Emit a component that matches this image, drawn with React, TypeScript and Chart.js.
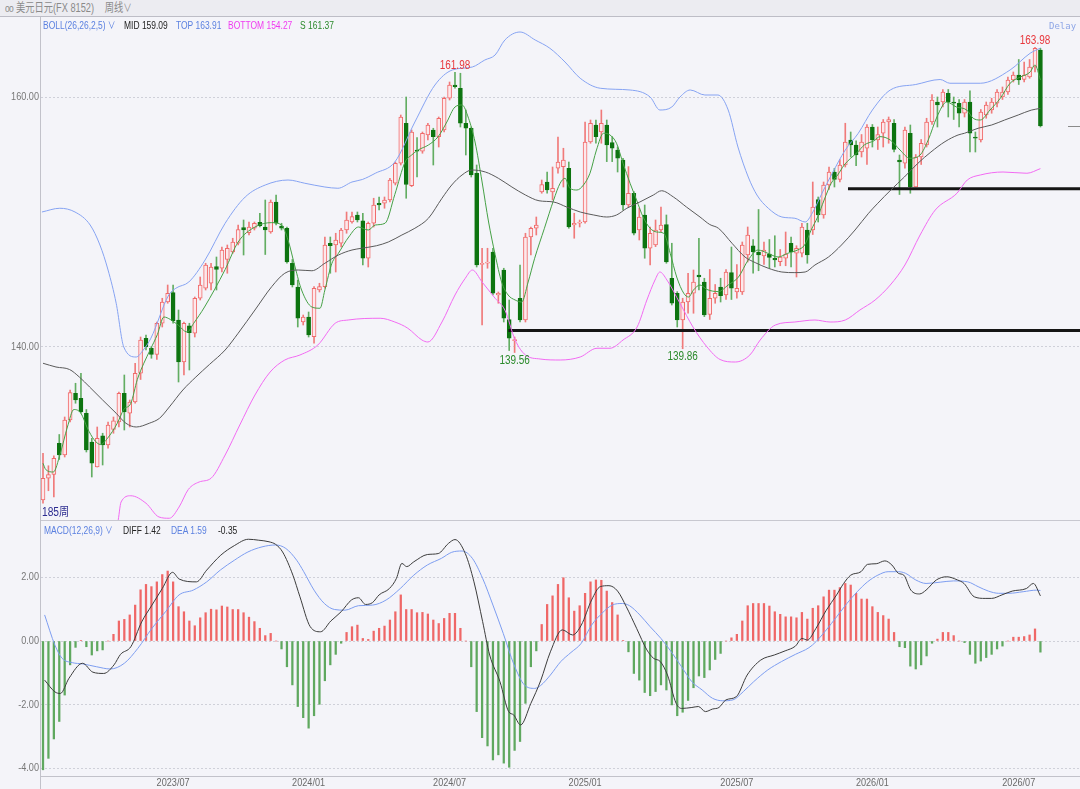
import React, { useEffect, useRef } from 'react';
import { Chart, registerables } from 'chart.js';

Chart.register(...registerables);

const FONT = "'Liberation Sans','Noto Sans CJK SC',sans-serif";
const TEXT_SX = 0.77; // horizontal squeeze for html texts
const CANVAS_SX = 0.83; // horizontal squeeze for canvas texts

// ---- weekly candles (1-based week index = position in arrays + 1) ----
const OPEN = [127.76,129.5,129.8,132.3,131.36,134.16,136.3,135.9,134.7,132.4,
130.4,132.9,132.16,133.4,134.0,136.3,134.7,135.6,137.9,140.7,
139.9,139.4,141.9,143.6,144.35,142.16,138.8,141.7,141.1,143.9,
144.7,145.1,146.43,146.3,147.0,147.6,148.3,149.55,149.15,149.5,
149.97,149.6,149.2,151.6,149.68,149.5,146.7,144.8,142.0,142.4,
140.83,144.56,144.83,148.3,148.16,148.3,149.36,150.0,150.56,150.1,
147.1,149.9,151.5,151.5,151.76,153.1,154.7,157.9,152.9,155.76,
155.66,156.96,157.36,156.83,157.36,159.9,160.96,160.7,157.9,157.5,
153.9,146.6,146.7,147.6,144.16,146.16,142.2,140.5,143.9,142.16,
148.8,149.5,152.4,153.2,152.4,154.3,154.43,154.3,149.76,149.9,
150.0,156.4,157.76,157.2,157.76,156.35,155.76,154.96,151.36,152.3,
149.36,150.56,147.9,148.16,149.36,149.8,145.5,144.3,142.16,143.6,
144.3,145.76,145.2,142.6,143.9,144.8,144.16,145.95,144.4,144.4,
147.36,148.1,147.6,147.28,147.44,147.1,146.83,147.1,148.3,147.5,
147.5,149.36,149.36,151.8,150.56,152.96,154.0,153.4,154.56,156.56,
156.16,155.6,155.9,157.6,156.56,157.1,158.0,157.9,154.96,154.7,
157.1,152.8,155.2,156.16,158.0,159.6,159.6,160.3,159.6,159.5,
158.7,159.6,156.8,156.56,158.56,158.96,159.5,160.0,160.4,161.36,
161.76,161.4,161.6,162.4,163.76];

const HIGH = [131.5,130.5,131.3,133.0,134.4,136.56,137.1,137.9,135.0,132.7,
133.6,133.1,134.0,134.4,136.4,137.76,135.76,138.7,140.8,140.96,
140.0,142.0,143.9,144.96,144.96,142.96,142.0,141.9,144.0,145.6,
146.7,146.7,147.2,148.0,148.16,148.7,149.76,150.16,150.0,150.0,
150.7,151.76,151.76,152.16,149.9,149.6,147.0,145.36,142.56,142.8,
144.83,145.1,148.8,148.8,149.1,149.5,150.8,150.8,150.8,150.7,
150.0,151.9,152.0,152.0,153.5,154.8,158.56,160.0,157.36,156.76,
157.2,157.9,157.5,158.4,160.0,161.2,161.98,161.9,158.96,157.6,
154.56,147.9,147.9,147.9,144.4,146.3,143.76,140.8,146.56,149.1,
149.6,150.4,153.36,154.0,154.4,156.8,155.9,154.8,150.7,150.16,
158.0,158.16,158.16,158.96,158.16,156.83,156.0,155.1,154.43,152.43,
151.1,151.36,149.6,150.16,151.2,150.56,148.3,144.43,143.9,145.9,
146.16,148.7,145.5,146.2,145.0,145.5,146.2,148.0,146.6,148.4,
149.6,148.6,151.0,148.4,148.6,148.9,147.8,149.2,148.8,148.1,
149.9,149.9,153.2,152.0,153.2,154.4,154.3,155.0,157.9,157.2,
156.5,157.0,157.8,157.8,157.6,158.2,158.4,158.2,155.36,157.6,
157.76,155.4,156.6,158.3,160.2,160.0,160.6,160.6,160.0,159.8,
159.8,160.5,157.2,159.0,159.6,159.9,160.6,160.8,161.6,162.0,
163.0,162.8,163.0,163.98,163.9];

const LOW = [127.5,128.5,128.0,131.0,131.2,134.0,135.5,134.7,131.6,129.6,
130.4,130.56,131.9,133.1,133.6,133.36,133.6,135.5,137.4,139.76,
139.1,139.0,141.6,143.5,141.9,137.2,137.76,138.16,140.8,143.76,
144.56,144.56,144.56,146.0,145.9,147.5,148.16,147.36,148.96,149.36,
149.6,147.4,149.1,149.76,149.36,146.7,144.8,141.6,141.76,140.8,
140.3,144.4,144.7,145.9,146.0,148.0,149.1,149.9,150.0,146.56,
146.4,149.6,150.96,151.1,151.6,152.96,154.56,151.9,152.83,153.6,
155.5,156.56,154.56,156.0,157.2,159.76,160.7,157.6,155.36,153.6,
146.4,141.76,146.3,144.16,143.5,142.0,139.72,139.56,142.0,142.0,
147.36,148.96,152.3,152.3,151.76,153.9,152.8,149.5,148.7,149.6,
149.9,156.3,156.3,156.3,154.83,154.83,154.0,150.96,151.2,148.96,
148.56,147.1,146.56,148.03,149.2,146.7,143.36,141.6,139.86,142.7,
142.7,144.56,142.43,142.2,143.5,143.6,143.8,143.8,143.9,144.2,
146.8,145.9,146.1,146.6,146.3,146.4,146.5,146.5,146.4,145.6,
147.2,146.7,149.0,150.0,150.3,152.6,152.8,153.2,154.4,155.2,
154.5,155.2,154.6,156.0,155.8,156.0,156.3,155.6,152.2,154.3,
152.3,152.8,154.6,156.0,157.8,157.6,159.2,158.4,158.2,157.6,
158.4,155.6,155.6,156.4,158.3,158.7,159.2,159.8,160.2,161.2,
161.0,161.2,161.5,162.0,157.6];

const CLOSE = [129.5,129.8,131.1,131.36,134.16,136.35,135.76,134.8,131.76,130.7,
132.7,132.16,133.76,134.1,136.3,134.8,135.6,137.9,140.56,140.0,
139.4,141.9,143.6,144.3,142.1,138.8,141.9,141.15,143.9,144.96,
146.56,146.4,146.2,147.76,147.9,148.4,149.4,149.36,149.6,149.9,
149.7,149.36,151.6,149.9,149.5,146.8,144.96,142.3,142.4,140.96,
144.7,144.83,148.16,148.1,148.56,149.36,150.16,150.43,150.16,147.1,
149.9,151.36,151.36,151.76,153.36,154.7,158.4,153.0,157.2,155.66,
157.1,157.76,156.83,158.3,159.9,160.96,160.83,157.9,157.5,153.76,
146.56,146.7,146.8,144.3,144.3,142.3,140.7,140.6,142.16,148.8,
149.5,149.76,153.0,152.56,152.7,154.8,154.96,149.6,149.9,150.0,
156.4,157.9,156.83,157.9,156.16,155.9,155.1,151.36,152.3,149.1,
150.4,147.9,149.1,149.36,149.76,146.8,143.5,142.16,143.6,144.3,
145.2,145.6,142.56,143.9,144.3,144.1,146.0,144.7,144.7,148.16,
148.96,147.6,147.36,147.76,147.17,146.96,147.2,147.44,147.6,147.9,
149.6,147.36,151.2,150.56,152.96,154.0,153.4,154.56,156.4,156.16,
155.36,156.4,157.6,156.56,157.0,158.0,158.2,155.8,154.8,157.36,
152.8,155.2,156.3,158.0,159.76,159.36,160.4,159.6,159.5,158.7,
159.6,157.1,156.7,158.8,159.36,159.6,160.4,160.4,161.36,161.76,
161.36,161.76,162.4,163.9,157.68];

// ---- Bollinger / S line readings: [week, value] ----
const BOLL_TOP = [[0.8,150.8],[4.1,151.1],[6.9,150.8],[9.7,149.76],[11.5,148.16],[13,146.16],[14.5,143.5],[15.9,140.0],[18.2,139.2],[19.5,139.76],[20.9,140.7],[24.2,144.16],[25.5,144.7],[27.9,145.2],[30.9,146.96],[34.6,149.9],[38.3,152.0],[42,152.96],[46.2,153.36],[49.3,153.1],[53,152.8],[55.4,152.7],[58,153.2],[59.9,153.4],[62.3,153.9],[65.9,154.8],[69.6,158.0],[73.3,160.96],[76.5,162.16],[80.2,162.4],[82.5,162.96],[84.4,163.36],[86.2,164.56],[89,165.2],[91.8,164.56],[94.5,163.9],[97.3,162.8],[100.1,161.5],[103.8,160.7],[109.3,160.56],[113,160.0],[114.8,158.96],[117,159.2],[118.5,160.0],[120.4,160.56],[123.1,160.16],[125.5,160.16],[127.4,158.96],[129.2,156.0],[131.1,153.6],[132.7,152.16],[134.8,151.1],[137.3,150.4],[139.7,150.3],[141.6,150.0],[142.9,150.7],[144.7,152.3],[146.6,153.9],[149,155.76],[151.4,157.1],[154,158.96],[157.3,160.56],[162,161.0],[166.5,161.4],[168.3,161.1],[173.9,161.1],[179.4,162.16],[183.1,163.5],[185,163.91]];

const BOLL_MID = [[1,138.7],[3.4,138.4],[5.9,138.2],[7.7,137.6],[9.6,136.8],[12,135.76],[14.5,134.7],[16.3,133.9],[18.2,133.6],[20.6,133.9],[22.5,134.3],[24.3,135.2],[26.8,136.56],[29.2,137.6],[31.7,138.6],[34.6,139.76],[37,141.1],[40.1,142.96],[43.2,144.83],[45.6,145.9],[48.1,146.16],[50.6,146.1],[53,146.7],[55.5,147.36],[58,147.76],[59.8,147.9],[62.5,148.1],[64.7,148.4],[67.2,148.96],[69.6,149.5],[72.1,150.3],[74.6,151.9],[76.4,152.96],[78.3,153.76],[80.1,154.16],[82.6,154.0],[85,153.5],[87.5,152.8],[90,152.16],[92.5,151.7],[95.2,151.6],[97.6,151.2],[100.1,150.8],[102.6,150.56],[105,150.4],[106.8,150.56],[108.7,151.1],[111.1,151.6],[113.6,152.16],[115.1,152.5],[117.3,152.0],[119.7,151.2],[122.2,150.4],[124,149.8],[125.6,149.5],[128.1,148.3],[130.5,147.2],[132.4,146.75],[134.8,146.3],[137.3,146.0],[139.7,145.95],[141.6,146.0],[143.4,146.56],[145.9,147.2],[148.3,148.16],[150.8,149.36],[153.3,150.7],[155,151.5],[157.4,152.56],[159.9,153.6],[162.4,154.7],[164.8,155.6],[167.4,156.43],[169.8,156.96],[171,157.1],[173.5,157.5],[176,157.76],[178.4,158.16],[180.9,158.56],[183.3,158.95],[185,159.09]];

const BOLL_BOTTOM = [[13.4,124.8],[14.8,126.0],[15.4,127.6],[17.2,128.1],[20,127.5],[22.4,126.4],[24.3,126.3],[26.1,127.2],[27.8,128.6],[29.8,129.2],[32,129.5],[34.6,131.36],[37.3,133.76],[40.1,136.16],[42.9,138.0],[45.6,138.96],[48.4,139.36],[51.7,140.16],[54.9,141.9],[57.3,142.16],[63.2,142.3],[65.9,142.0],[68.3,141.5],[70.9,140.56],[72,140.4],[74.6,142.0],[77,144.16],[78.9,145.5],[80.2,146.16],[82,145.2],[84.4,143.9],[86.2,142.96],[88.1,140.56],[90,139.36],[92.7,139.04],[96.4,138.96],[100.1,139.2],[103.2,139.9],[105.6,139.9],[108,140.56],[110.6,141.6],[112.4,143.76],[113.9,145.36],[114.8,146.0],[116.1,145.36],[118.5,143.5],[120.9,141.6],[123.5,140.0],[125.9,139.0],[128.7,138.8],[131.4,139.36],[133.3,140.56],[136.1,141.76],[139.7,142.0],[143.4,142.16],[146.2,142.0],[149,142.16],[151.7,142.96],[154.5,143.76],[157.3,144.96],[160,146.56],[162.8,148.96],[165.6,150.96],[169.6,152.3],[171.5,153.36],[173.9,153.76],[178.1,154.0],[182.5,153.9],[185,154.27]];

const S_LINE = [[1,130.7],[1.5,130.2],[2.9,130.0],[4.2,131.5],[5.5,133.6],[6.7,135.0],[8,134.7],[9.2,133.5],[10.4,132.6],[11.6,132.2],[12.9,132.7],[14.7,133.9],[15.9,135.0],[17.2,135.5],[18.4,137.4],[19.6,138.7],[20.8,139.8],[22.1,141.0],[23.3,142.4],[24.5,142.2],[25.8,141.8],[27.6,141.2],[28.8,141.9],[30.8,143.2],[34.6,146.2],[37,148.4],[40.1,149.6],[43.2,149.95],[45,149.76],[46.2,148.56],[47.5,146.4],[48.7,144.56],[50.6,143.2],[52.1,143.1],[53,144.56],[54.3,146.7],[55.5,147.5],[57.4,148.8],[59.2,149.6],[61,149.36],[62.3,149.76],[64.1,149.9],[65.9,152.2],[67.8,154.8],[69,155.36],[70.2,155.76],[72.1,156.16],[73.9,156.83],[75.5,158.0],[77,159.2],[78.3,159.36],[79.5,158.3],[80.7,156.4],[82,153.2],[83.2,150.0],[84.4,147.4],[85.6,145.2],[86.8,144.16],[88.1,143.76],[89.3,143.6],[90.5,145.2],[91.7,147.1],[93.5,149.5],[95.2,151.76],[96.4,153.1],[97.3,153.5],[98.2,152.7],[99.5,152.56],[100.7,152.96],[101.9,153.9],[103.1,155.76],[104.4,157.1],[105.6,156.96],[106.8,156.3],[108,154.7],[109.3,153.1],[110.5,151.76],[111.7,150.4],[113,149.5],[114.2,149.2],[115.5,149.1],[116.7,147.5],[117.9,145.6],[119.2,144.3],[120.1,144.0],[121,144.56],[122.2,144.96],[123.5,144.6],[125.6,144.43],[127.4,144.96],[129.3,145.6],[131.1,146.96],[132.9,147.76],[134.7,147.5],[136.6,147.2],[138.4,147.5],[140.2,147.76],[141.5,148.16],[142.7,149.36],[143.9,150.4],[145.1,151.76],[146.4,153.1],[147.6,153.76],[148.8,154.56],[150,155.1],[151.3,155.6],[152.5,156.16],[154.3,156.5],[155.4,156.83],[157.3,156.56],[159.1,155.76],[160.9,155.1],[162.8,155.36],[164.3,156.56],[165.9,158.4],[167.7,159.6],[169.5,159.2],[171.4,158.96],[172.6,158.3],[173.9,158.16],[175.7,158.96],[177.6,159.9],[179.4,161.1],[181.3,161.6],[183.1,162.0],[184,162.56],[185,161.37]];

// ---- MACD ----
const MACD_HIST = [-4.05,-3.69,-3.08,-2.53,-1.7,-0.75,-0.2,0.02,-0.18,-0.44,
-0.31,-0.28,0,0.21,0.63,0.68,0.82,1.13,1.61,1.78,
1.71,1.86,2.09,2.2,1.86,1.08,0.92,0.63,0.48,0.73,
0.89,1.0,0.98,1.1,1.07,0.99,0.99,0.89,0.75,0.61,
0.4,0.17,0.24,0,-0.25,-0.81,-1.38,-2.06,-2.41,-2.74,
-2.35,-1.99,-1.25,-0.75,-0.42,-0.07,0.27,0.45,0.5,0.08,
0.05,0.31,0.4,0.47,0.66,0.92,1.45,0.99,0.99,0.89,
0.9,0.85,0.66,0.55,0.71,0.87,0.87,0.4,0,-0.81,
-2.22,-3.04,-3.3,-3.74,-3.58,-3.84,-3.97,-3.44,-3.16,-1.96,
-0.81,-0.31,0.52,1.15,1.42,1.78,1.99,1.36,0.94,1.11,
1.5,1.86,1.92,1.91,1.57,1.21,0.82,0.02,-0.34,-1.02,
-1.23,-1.62,-1.72,-1.59,-1.38,-1.54,-2.01,-2.35,-2.24,-1.87,
-1.47,-1.1,-1.15,-0.91,-0.58,-0.39,0,0.1,0.21,0.63,
1.11,1.18,1.18,1.18,1.1,0.92,0.84,0.76,0.76,0.73,
0.9,0.69,1.03,1.11,1.39,1.6,1.6,1.68,1.81,1.76,
1.5,1.32,1.32,1.08,0.9,0.8,0.69,0.27,-0.18,-0.21,
-0.79,-0.88,-0.75,-0.47,-0.07,0.06,0.27,0.27,0.17,0,
-0.05,-0.42,-0.7,-0.63,-0.52,-0.42,-0.25,-0.16,0,0.12,
0.12,0.14,0.19,0.38,-0.35];

const MACD_DIFF = [[1.3,-1.23],[3.2,-1.6],[4.2,-1.65],[5.8,-1.17],[8.3,-0.7],[10.2,-0.98],[12.2,-1.02],[14.1,-0.75],[15.3,-0.42],[17.2,-0.18],[19.2,0.6],[21.1,1.13],[23,1.65],[24.9,2.16],[26.1,1.95],[29.3,1.86],[31.2,2.23],[33.8,2.7],[36.3,3.0],[38.9,3.2],[40.8,3.17],[42.7,3.12],[43.9,3.04],[45.2,2.8],[47.1,2.07],[48.4,1.39],[50.3,0.45],[52.2,0.29],[54.1,0.63],[56,0.92],[57.9,1.29],[59.2,1.36],[60.5,1.15],[61.8,1.21],[63,1.45],[64.9,1.65],[66.2,1.97],[67.2,2.44],[68.1,2.34],[69.4,2.49],[71.9,2.72],[73.9,2.75],[75.8,3.07],[77,3.19],[78.9,2.75],[80.5,1.86],[82.1,0.61],[83.4,-0.44],[85.3,-1.28],[86.9,-2.22],[87.8,-2.32],[89.1,-2.64],[91,-1.96],[92.8,-1.25],[94.6,-0.34],[96.8,0.35],[98.7,0.19],[100.3,0.5],[102.2,1.29],[103.8,1.71],[105.4,1.74],[107,1.57],[108.6,1.08],[110.5,0.4],[112.4,-0.28],[113.6,-0.54],[114.9,-0.65],[116.2,-1.07],[117.8,-1.96],[118.8,-2.12],[120.7,-2.09],[121.9,-2.06],[123.2,-2.22],[124.5,-2.14],[125.7,-2.09],[127,-1.85],[128.9,-1.75],[130.9,-1.07],[133.4,-0.6],[135.9,-0.44],[137.9,-0.31],[139.8,-0.16],[141,0.08],[142,0.03],[143.6,0.4],[145.5,0.97],[147.4,1.45],[148.7,1.81],[150,2.07],[151.9,2.18],[153.1,2.41],[154.7,2.43],[156.3,2.52],[157.6,2.39],[158.8,2.13],[159.8,2.07],[161.1,1.6],[162.7,1.48],[163.9,1.6],[165.8,1.92],[167.7,2.02],[169.7,1.92],[170.9,1.81],[172.8,1.39],[174.8,1.34],[176,1.34],[177.9,1.45],[179.8,1.57],[182.4,1.65],[183.7,1.81],[185,1.42]];

const MACD_DEA = [[1.3,0.82],[3.2,-0.13],[4.5,-0.54],[6.4,-0.68],[8.3,-0.72],[10.9,-0.81],[13.4,-0.88],[16,-0.7],[18.5,-0.23],[21.1,0.4],[23.6,0.92],[26.1,1.45],[28.7,1.6],[31.2,1.86],[33.7,2.23],[36.3,2.54],[38.8,2.8],[41.4,2.96],[43.9,3.02],[45.8,2.91],[47.8,2.54],[49.1,2.18],[51,1.6],[52.9,1.18],[54.8,0.99],[56.7,0.97],[59.2,1.11],[61.8,1.13],[64.3,1.29],[66.9,1.65],[69.4,2.07],[71.9,2.39],[74.5,2.6],[76.4,2.79],[78.3,2.83],[80.2,2.6],[82.1,1.97],[84,1.13],[85.9,0.24],[87.9,-0.75],[89.8,-1.38],[91.7,-1.49],[92.8,-1.4],[94.6,-1.07],[96.5,-0.65],[98.4,-0.36],[100.3,-0.07],[102.2,0.5],[104.1,0.87],[106,1.13],[107.9,1.18],[109.2,1.11],[111.1,0.82],[113,0.45],[115,0.08],[116.9,-0.34],[118.8,-0.81],[120.7,-1.28],[122.6,-1.54],[124.5,-1.8],[126.4,-1.88],[128.3,-1.85],[130.2,-1.59],[132.1,-1.28],[134.7,-0.91],[137.2,-0.65],[139.8,-0.42],[142.3,-0.21],[143.6,-0.02],[145.5,0.35],[147.4,0.76],[149.3,1.18],[151.2,1.55],[153.1,1.86],[155,2.07],[156.9,2.18],[158.8,2.18],[160.1,2.13],[162,1.92],[163.9,1.81],[166.5,1.85],[169,1.89],[171.6,1.86],[173.5,1.71],[175.4,1.57],[177.3,1.5],[179.2,1.5],[181.8,1.55],[184.3,1.6],[185,1.59]];

// ---- support lines drawn on the price panel ----
const SUPPORT_LEVELS = [141.32, 152.66];
const SUPPORT_FROM_WEEK = [86.85, 149.5];

// ---- marked highs / lows ----
const MARK_WEEKS = [77, 88, 119, 184];
const MARK_KINDS = ['high', 'low', 'low', 'high'];

// ---- ticks ----
const PRICE_TICKS = [140, 160];
const MACD_TICKS = [2, 0, -2, -4];
const X_TICK_WEEKS = [25, 50, 76, 101, 129, 154, 181];
const X_TICK_LABELS = ['2023/07', '2024/01', '2024/07', '2025/01', '2025/07', '2026/01', '2026/07'];

// axis ranges
const X_MIN = 0.63;
const X_MAX = 192.3;
const PRICE_MIN = 126.16;
const PRICE_MAX = 166.4;
const MACD_MIN = -4.245;
const MACD_MAX = 3.774;

const GRID = '#cfd0d9';
const UP_FILL = '#fde8eb';
const UP_LINE = '#f06a6a';
const DOWN_FILL = '#0d7410';
const UP_WICK = '#f07a7a';
const DOWN_WICK = '#62ad62';

const toXY = (pairs: number[][]) => pairs.map(([x, y]) => ({ x, y }));

const lineDs = (label: string, pairs: number[][], color: string, width = 1) => ({
  type: 'line' as const,
  label,
  data: toXY(pairs),
  borderColor: color,
  borderWidth: width,
  pointRadius: 0,
  fill: false,
  cubicInterpolationMode: 'monotone' as const,
  order: 0,
});

const squeezeText = (ctx: CanvasRenderingContext2D, text: string, x: number, y: number) => {
  ctx.save();
  ctx.translate(x, y);
  ctx.scale(CANVAS_SX, 1);
  ctx.fillText(text, 0, 0);
  ctx.restore();
};

const yLabels = (ticks: number[]) => ({
  id: 'yLabels',
  afterDraw(chart: any) {
    const { ctx, chartArea, scales } = chart;
    ctx.save();
    ctx.font = `11px ${FONT}`;
    ctx.fillStyle = '#777';
    ctx.textAlign = 'right';
    ctx.textBaseline = 'middle';
    ticks.forEach((v) => squeezeText(ctx, v.toFixed(2), chartArea.left - 2, scales.y.getPixelForValue(v)));
    ctx.restore();
  },
});

const xLabels = {
  id: 'xLabels',
  afterDraw(chart: any) {
    const { ctx, chartArea, scales } = chart;
    ctx.save();
    ctx.font = `11px ${FONT}`;
    ctx.fillStyle = '#6a6a6a';
    ctx.textAlign = 'center';
    ctx.textBaseline = 'middle';
    X_TICK_WEEKS.forEach((w, k) => squeezeText(ctx, X_TICK_LABELS[k], scales.x.getPixelForValue(w), chartArea.bottom + 6.5));
    ctx.restore();
  },
};

const markLabels = {
  id: 'markLabels',
  afterDatasetsDraw(chart: any) {
    const { ctx, scales, chartArea } = chart;
    ctx.save();
    ctx.font = `12px ${FONT}`;
    ctx.textAlign = 'center';
    MARK_WEEKS.forEach((w, k) => {
      const high = MARK_KINDS[k] === 'high';
      const v = high ? HIGH[w - 1] : LOW[w - 1];
      const x = scales.x.getPixelForValue(w);
      const y = scales.y.getPixelForValue(v);
      ctx.fillStyle = high ? '#e8383d' : '#2b8a2b';
      ctx.textBaseline = high ? 'bottom' : 'top';
      squeezeText(ctx, v.toFixed(2), x, high ? y - 1 : y + 2);
    });
    // last price marker at the right edge
    const last = CLOSE[CLOSE.length - 1];
    const py = Math.round(scales.y.getPixelForValue(last)) + 0.5;
    ctx.strokeStyle = '#8a8a8a';
    ctx.lineWidth = 1;
    ctx.beginPath();
    ctx.moveTo(chartArea.right - 12, py);
    ctx.lineTo(chartArea.right, py);
    ctx.stroke();
    ctx.restore();
  },
};

function T(props: { left: number; top: number; color: string; size?: number; family?: string; sx?: number; children: React.ReactNode }) {
  return (
    <div
      style={{
        position: 'absolute',
        left: props.left,
        top: props.top,
        color: props.color,
        fontFamily: props.family || FONT,
        fontSize: props.size || 11,
        lineHeight: '14px',
        whiteSpace: 'nowrap',
        transform: `scaleX(${props.sx ?? TEXT_SX})`,
        transformOrigin: 'left center',
      }}
    >
      {props.children}
    </div>
  );
}

export default function App() {
  const topRef = useRef<HTMLCanvasElement>(null);
  const botRef = useRef<HTMLCanvasElement>(null);

  useEffect(() => {
    document.body.style.margin = '0';
    Chart.defaults.font.family = FONT;
    const weeks = OPEN.map((_, i) => i + 1);
    const isUp = (i: number) => CLOSE[i] >= OPEN[i];

    const supportSets = SUPPORT_LEVELS.map((lvl, k) => ({
      type: 'line' as const,
      label: 'support' + k,
      data: [{ x: SUPPORT_FROM_WEEK[k], y: lvl }, { x: X_MAX, y: lvl }],
      borderColor: '#151515',
      borderWidth: 3,
      pointRadius: 0,
      order: 0,
    }));

    const top = new Chart(topRef.current as HTMLCanvasElement, {
      type: 'bar',
      data: {
        datasets: [
          lineDs('TOP', BOLL_TOP, '#86a3f2'),
          lineDs('MID', BOLL_MID, '#5a5a5a'),
          lineDs('BOTTOM', BOLL_BOTTOM, '#f26af2'),
          lineDs('S', S_LINE, '#45a045'),
          ...supportSets,
          {
            type: 'bar',
            label: 'body',
            data: weeks.map((w, i) => ({ x: w, y: [OPEN[i], CLOSE[i]] })),
            grouped: false,
            barThickness: 4,
            minBarLength: 1,
            borderWidth: 1,
            borderSkipped: false,
            backgroundColor: (c: any) => (isUp(c.dataIndex) ? UP_FILL : DOWN_FILL),
            borderColor: (c: any) => (isUp(c.dataIndex) ? UP_LINE : DOWN_FILL),
            order: 2,
          } as any,
          {
            type: 'bar',
            label: 'wick',
            data: weeks.map((w, i) => ({ x: w, y: [LOW[i], HIGH[i]] })),
            grouped: false,
            barThickness: 1,
            borderWidth: 0,
            backgroundColor: (c: any) => (isUp(c.dataIndex) ? UP_WICK : DOWN_WICK),
            order: 3,
          } as any,
        ],
      },
      options: {
        animation: false,
        responsive: false,
        maintainAspectRatio: false,
        events: [],
        layout: { padding: 0 },
        plugins: { legend: { display: false }, tooltip: { enabled: false } },
        scales: {
          x: { type: 'linear', min: X_MIN, max: X_MAX, offset: false, display: false },
          y: {
            type: 'linear',
            min: PRICE_MIN,
            max: PRICE_MAX,
            afterFit: (s: any) => { s.width = 41; },
            afterBuildTicks: (s: any) => { s.ticks = PRICE_TICKS.map((v) => ({ value: v })); },
            ticks: { display: false },
            grid: { color: GRID, drawTicks: false },
            border: { display: false, dash: [2, 2] },
          },
        },
      } as any,
      plugins: [yLabels(PRICE_TICKS), markLabels],
    });

    const bot = new Chart(botRef.current as HTMLCanvasElement, {
      type: 'bar',
      data: {
        datasets: [
          lineDs('DIFF', MACD_DIFF, '#3c3c3c'),
          lineDs('DEA', MACD_DEA, '#7d9df0'),
          {
            type: 'bar',
            label: 'MACD',
            data: weeks.map((w, i) => ({ x: w, y: MACD_HIST[i] })),
            grouped: false,
            barThickness: 1.6,
            borderWidth: 0,
            backgroundColor: (c: any) => (MACD_HIST[c.dataIndex] >= 0 ? '#ef6767' : '#5fa85f'),
            order: 2,
          } as any,
        ],
      },
      options: {
        animation: false,
        responsive: false,
        maintainAspectRatio: false,
        events: [],
        layout: { padding: { top: 1, left: 0, right: 0, bottom: 0 } },
        plugins: { legend: { display: false }, tooltip: { enabled: false } },
        scales: {
          x: {
            type: 'linear',
            min: X_MIN,
            max: X_MAX,
            offset: false,
            afterFit: (s: any) => { s.height = 13; },
            afterBuildTicks: (s: any) => { s.ticks = X_TICK_WEEKS.map((v) => ({ value: v })); },
            ticks: { display: false },
            grid: { display: false, drawTicks: false },
            border: { display: true, color: '#c2c2ca', width: 1 },
          },
          y: {
            type: 'linear',
            min: MACD_MIN,
            max: MACD_MAX,
            afterFit: (s: any) => { s.width = 41; },
            afterBuildTicks: (s: any) => { s.ticks = MACD_TICKS.map((v) => ({ value: v })); },
            ticks: { display: false },
            grid: { color: GRID, drawTicks: false },
            border: { display: false, dash: [2, 2] },
          },
        },
      } as any,
      plugins: [yLabels(MACD_TICKS), xLabels],
    });

    return () => {
      top.destroy();
      bot.destroy();
    };
  }, []);

  return (
    <div style={{ position: 'fixed', left: 0, top: 0, width: 1080, height: 789, background: '#f4f4f9', overflow: 'hidden' }}>
      <div style={{ position: 'absolute', left: 0, top: 0, width: 1080, height: 16, background: '#ececf1', borderBottom: '1px solid #bdbdc6' }} />
      <T left={5} top={1} color="#8a8a8a" size={12}>
        <span style={{ fontSize: 11, letterSpacing: -1 }}>oo</span>
        <span style={{ marginLeft: 4 }}>美元日元(FX 8152)</span>
        <span style={{ marginLeft: 14 }}>周线</span>
        <span style={{ fontSize: 11 }}>∨</span>
      </T>
      <canvas ref={topRef} width={1080} height={503} style={{ position: 'absolute', left: 0, top: 17, width: 1080, height: 503 }} />
      <canvas ref={botRef} width={1080} height={269} style={{ position: 'absolute', left: 0, top: 520, width: 1080, height: 269 }} />
      <div style={{ position: 'absolute', left: 41, top: 520, width: 1039, height: 1, background: '#c8c8d0' }} />
      <div style={{ position: 'absolute', left: 40, top: 17, width: 1, height: 772, background: '#c2c2ca' }} />

      <T left={43} top={18} color="#5b80e0">BOLL(26,26,2,5)<span style={{ fontSize: 10 }}> ∨</span></T>
      <T left={124} top={18} color="#222">MID 159.09</T>
      <T left={176} top={18} color="#5b80e0">TOP 163.91</T>
      <T left={228} top={18} color="#f03cf0">BOTTOM 154.27</T>
      <T left={300} top={18} color="#2c8a2c">S 161.37</T>
      <T left={1049} top={19} color="#8ea6e6" size={9} sx={1} family="'DejaVu Sans Mono','Liberation Mono',monospace">Delay</T>
      <T left={42} top={505} color="#2c2c90" size={12} sx={0.85}>185周</T>

      <T left={44} top={523} color="#5b80e0">MACD(12,26,9)<span style={{ fontSize: 10 }}> ∨</span></T>
      <T left={123} top={523} color="#222">DIFF 1.42</T>
      <T left={171} top={523} color="#5b80e0">DEA 1.59</T>
      <T left={218} top={523} color="#222">-0.35</T>
    </div>
  );
}
